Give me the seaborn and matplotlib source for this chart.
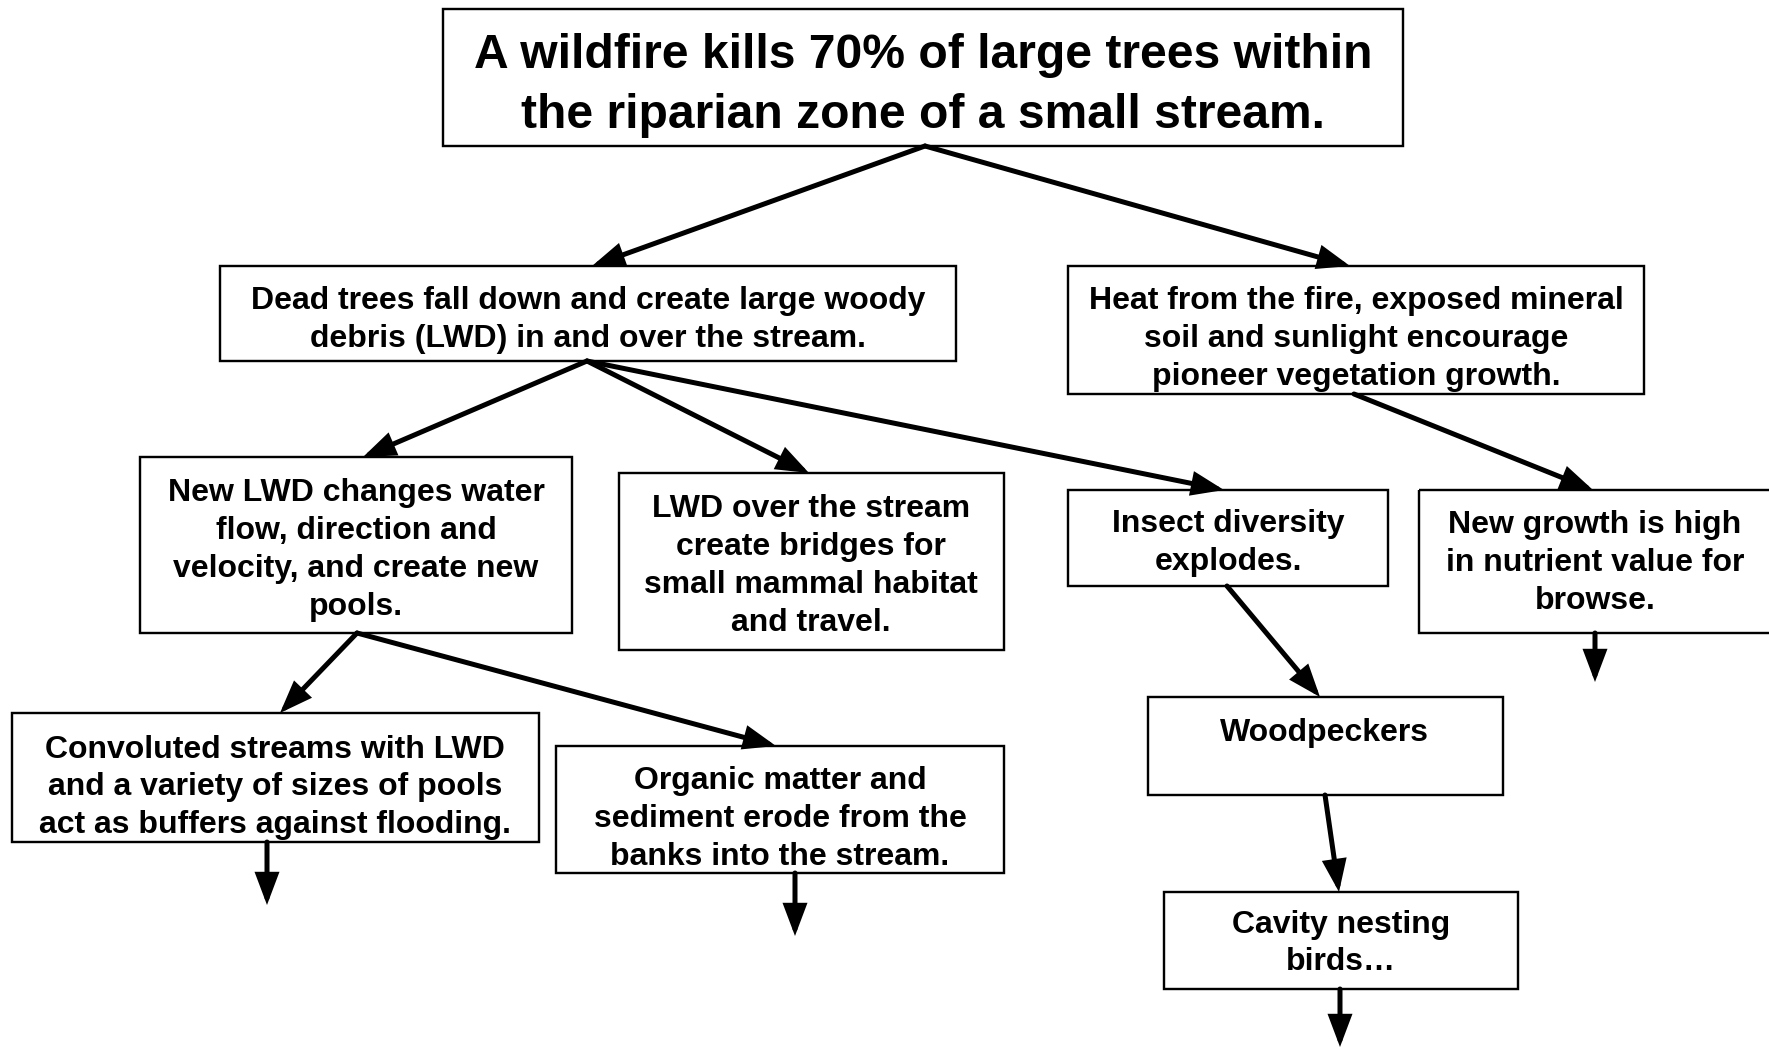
import matplotlib
matplotlib.use("Agg")
import matplotlib.pyplot as plt
from matplotlib.patches import Rectangle, FancyArrowPatch
import seaborn as sns

# ---------------- content ----------------
node_texts = [
    "A wildfire kills 70% of large trees within\nthe riparian zone of a small stream.",
    "Dead trees fall down and create large woody\ndebris (LWD) in and over the stream.",
    "Heat from the fire, exposed mineral\nsoil and sunlight encourage\npioneer vegetation growth.",
    "New LWD changes water\nflow, direction and\nvelocity, and create new\npools.",
    "LWD over the stream\ncreate bridges for\nsmall mammal habitat\nand travel.",
    "Insect diversity\nexplodes.",
    "New growth is high\nin nutrient value for\nbrowse.",
    "Convoluted streams with LWD\nand a variety of sizes of pools\nact as buffers against flooding.",
    "Organic matter and\nsediment erode from the\nbanks into the stream.",
    "Woodpeckers",
    "Cavity nesting\nbirds\u2026",
]
# edges between nodes (parent, child)
edge_from = [0, 0, 1, 1, 1, 2, 3, 3, 5, 9]
edge_to   = [1, 2, 3, 4, 5, 6, 7, 8, 9, 10]
# open-ended arrows leaving a node
open_from = [6, 7, 8, 10]

# ---------------- layout (pixel space) ----------------
W, H = 1769, 1047
boxes = [  # left, top, right, bottom
    (443, 9, 1403, 146),
    (220, 266, 956, 361),
    (1068, 266, 1644, 394),
    (140, 457, 572, 633),
    (619, 473, 1004, 650),
    (1068, 490, 1388, 586),
    (1419, 490, 1785, 633),
    (12, 713, 539, 842),
    (556, 746, 1004, 873),
    (1148, 697, 1503, 795),
    (1164, 892, 1518, 989),
]
text_x = [923, 588, 1356, 356, 811, 1228, 1595, 275, 780, 1324, 1341]
text_y = [85, 320, 339, 550, 566, 543, 563, 787, 819, 733, 944]
font_px = [48, 32, 32, 32, 32, 32, 32, 32, 32, 32, 32]
line_px = [60, 37.5, 37.5, 38, 38, 37.5, 38, 37.5, 38, 37, 37]

edge_start = [(925, 146), (925, 146), (587, 361), (587, 361), (587, 361),
              (1354, 394), (357, 633), (357, 633), (1227, 586), (1325, 795)]
edge_end = [(592, 266), (1350, 266), (363, 457), (809, 473), (1224, 490),
            (1593, 490), (280, 713), (776, 746), (1320, 697), (1339, 892)]
open_start = [(1595, 633), (267, 842), (795, 873), (1340, 989)]
open_end = [(1595, 682), (267, 905), (795, 936), (1340, 1047)]

# ---------------- drawing ----------------
sns.set_theme(style="white")
plt.rcParams["font.family"] = ["Liberation Sans", "DejaVu Sans"]

DPI = 100
fig = plt.figure(figsize=(W / DPI, H / DPI), dpi=DPI, facecolor="white")
ax = fig.add_axes([0, 0, 1, 1])
ax.set_xlim(0, W)
ax.set_ylim(H, 0)
ax.axis("off")

px2pt = 72.0 / DPI

for i, txt in enumerate(node_texts):
    l, t, r, b = boxes[i]
    ax.add_patch(Rectangle((l, t), r - l, b - t, fill=False, edgecolor="black",
                           linewidth=2.4 * px2pt, zorder=2, clip_on=True))
    lines = txt.split("\n")
    n = len(lines)
    for k, line in enumerate(lines):
        y = text_y[i] + (k - (n - 1) / 2) * line_px[i]
        ax.text(text_x[i], y, line, ha="center", va="center",
                fontsize=font_px[i] * px2pt, fontweight="bold",
                color="black", zorder=3)

def arrow(p0, p1, lw):
    a = FancyArrowPatch(p0, p1, arrowstyle="-|>,head_length=0.85,head_width=0.32",
                        mutation_scale=20, linewidth=lw * px2pt, color="black",
                        shrinkA=0, shrinkB=0, zorder=4, joinstyle="miter")
    ax.add_patch(a)

for s, e in zip(edge_start, edge_end):
    arrow(s, e, 5)
for s, e in zip(open_start, open_end):
    arrow(s, e, 5)

fig.savefig("out.png", dpi=DPI, facecolor="white")
